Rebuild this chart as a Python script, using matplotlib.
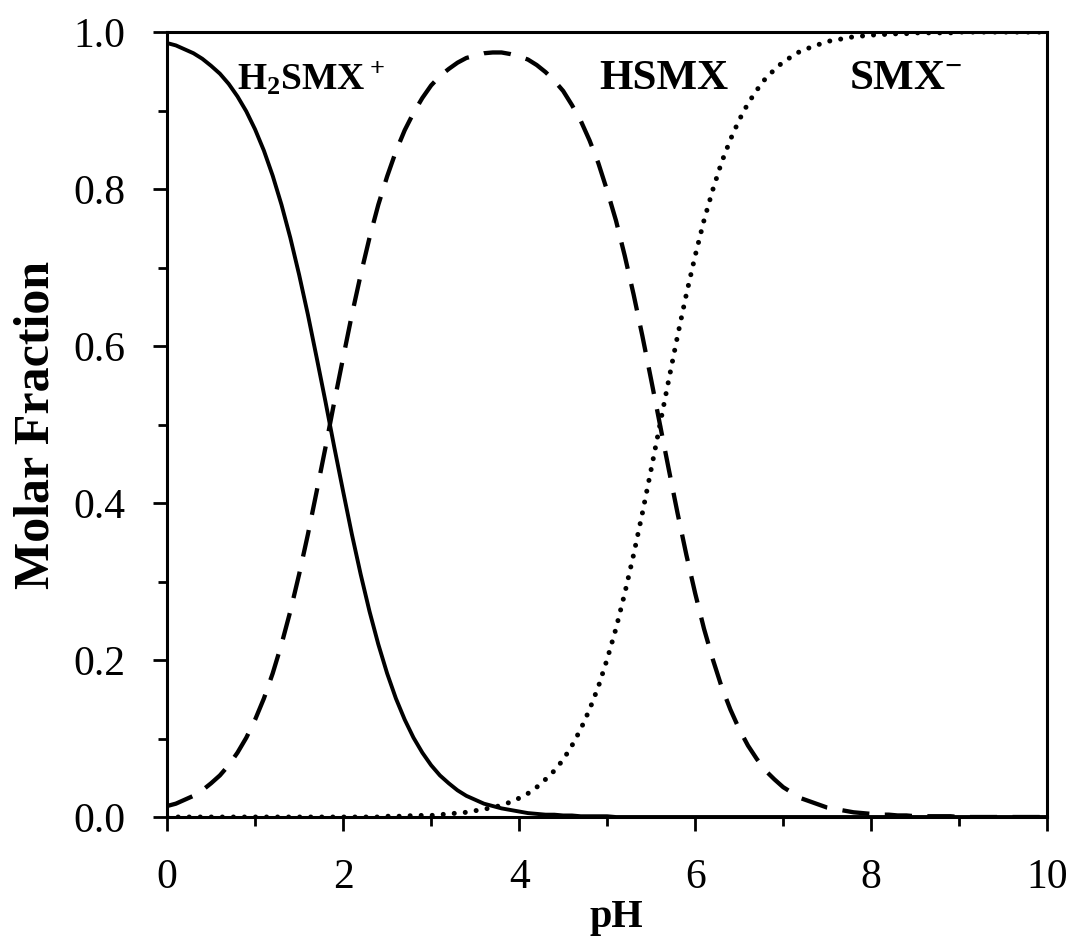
import matplotlib
matplotlib.use("Agg")
import matplotlib.pyplot as plt
from matplotlib.ticker import MultipleLocator, FormatStrFormatter

ph = [0.0, 0.1, 0.2, 0.3, 0.4, 0.5, 0.6, 0.7, 0.8, 0.9,
      1.0, 1.1, 1.2, 1.3, 1.4, 1.5, 1.6, 1.7, 1.8, 1.9,
      2.0, 2.1, 2.2, 2.3, 2.4, 2.5, 2.6, 2.7, 2.8, 2.9,
      3.0, 3.1, 3.2, 3.3, 3.4, 3.5, 3.6, 3.7, 3.8, 3.9,
      4.0, 4.1, 4.2, 4.3, 4.4, 4.5, 4.6, 4.7, 4.8, 4.9,
      5.0, 5.1, 5.2, 5.3, 5.4, 5.5, 5.6, 5.7, 5.8, 5.9,
      6.0, 6.1, 6.2, 6.3, 6.4, 6.5, 6.6, 6.7, 6.8, 6.9,
      7.0, 7.1, 7.2, 7.3, 7.4, 7.5, 7.6, 7.7, 7.8, 7.9,
      8.0, 8.1, 8.2, 8.3, 8.4, 8.5, 8.6, 8.7, 8.8, 8.9,
      9.0, 9.1, 9.2, 9.3, 9.4, 9.5, 9.6, 9.7, 9.8, 9.9, 10.0]

h2smx = [0.986, 0.983, 0.978, 0.973, 0.966, 0.957, 0.947, 0.934, 0.918, 0.899,
         0.876, 0.849, 0.817, 0.780, 0.738, 0.691, 0.640, 0.585, 0.529, 0.471,
         0.415, 0.360, 0.309, 0.262, 0.220, 0.183, 0.151, 0.124, 0.101, 0.082,
         0.066, 0.053, 0.043, 0.034, 0.027, 0.022, 0.017, 0.014, 0.011, 0.009,
         0.007, 0.005, 0.004, 0.003, 0.003, 0.002, 0.002, 0.001, 0.001, 0.001,
         0.001, 0.0, 0.0, 0.0, 0.0, 0.0, 0.0, 0.0, 0.0, 0.0,
         0.0, 0.0, 0.0, 0.0, 0.0, 0.0, 0.0, 0.0, 0.0, 0.0,
         0.0, 0.0, 0.0, 0.0, 0.0, 0.0, 0.0, 0.0, 0.0, 0.0,
         0.0, 0.0, 0.0, 0.0, 0.0, 0.0, 0.0, 0.0, 0.0, 0.0,
         0.0, 0.0, 0.0, 0.0, 0.0, 0.0, 0.0, 0.0, 0.0, 0.0, 0.0]

hsmx = [0.014, 0.017, 0.022, 0.027, 0.034, 0.043, 0.053, 0.066, 0.082, 0.101,
        0.124, 0.151, 0.183, 0.220, 0.262, 0.309, 0.360, 0.415, 0.471, 0.529,
        0.585, 0.640, 0.691, 0.738, 0.780, 0.816, 0.848, 0.875, 0.897, 0.916,
        0.932, 0.944, 0.953, 0.961, 0.967, 0.970, 0.973, 0.974, 0.974, 0.972,
        0.969, 0.965, 0.958, 0.949, 0.938, 0.925, 0.907, 0.887, 0.862, 0.833,
        0.798, 0.760, 0.715, 0.666, 0.613, 0.557, 0.500, 0.443, 0.387, 0.334,
        0.285, 0.240, 0.201, 0.166, 0.137, 0.112, 0.091, 0.074, 0.059, 0.048,
        0.038, 0.031, 0.024, 0.020, 0.016, 0.012, 0.010, 0.008, 0.006, 0.005,
        0.004, 0.003, 0.003, 0.002, 0.002, 0.001, 0.001, 0.001, 0.001, 0.001,
        0.0, 0.0, 0.0, 0.0, 0.0, 0.0, 0.0, 0.0, 0.0, 0.0, 0.0]

smx = [0.0, 0.0, 0.0, 0.0, 0.0, 0.0, 0.0, 0.0, 0.0, 0.0,
       0.0, 0.0, 0.0, 0.0, 0.0, 0.0, 0.0, 0.0, 0.0, 0.0,
       0.0, 0.0, 0.0, 0.0, 0.0, 0.001, 0.001, 0.001, 0.002, 0.002,
       0.002, 0.003, 0.004, 0.005, 0.006, 0.008, 0.010, 0.012, 0.015, 0.019,
       0.024, 0.030, 0.038, 0.048, 0.059, 0.073, 0.091, 0.112, 0.137, 0.166,
       0.201, 0.240, 0.285, 0.334, 0.387, 0.443, 0.500, 0.557, 0.613, 0.666,
       0.715, 0.760, 0.799, 0.834, 0.863, 0.888, 0.909, 0.926, 0.941, 0.952,
       0.962, 0.969, 0.976, 0.980, 0.984, 0.988, 0.990, 0.992, 0.994, 0.995,
       0.996, 0.997, 0.997, 0.998, 0.998, 0.999, 0.999, 0.999, 0.999, 0.999,
       1.0, 1.0, 1.0, 1.0, 1.0, 1.0, 1.0, 1.0, 1.0, 1.0, 1.0]

labels = [r"$\mathbf{H_2SMX^+}$", "HSMX", r"$\mathbf{SMX^{-}}$"]
label_x = [1.64, 5.64, 8.39]
label_size = [27, 31, 31]
label_y = 0.94

plt.rcParams["font.family"] = "serif"
plt.rcParams["font.serif"] = ["Liberation Serif"]
plt.rcParams["mathtext.fontset"] = "custom"
plt.rcParams["mathtext.rm"] = "Liberation Serif"
plt.rcParams["mathtext.bf"] = "Liberation Serif:bold"

fig = plt.figure(figsize=(10.92, 9.43), dpi=100)
ax = fig.add_axes([0.153, 0.1336, 0.806, 0.8324])

ax.plot(ph, h2smx, color="black", lw=2.8)
ax.plot(ph, hsmx, color="black", lw=3.1, dashes=(6.3, 3.6))
ax.plot(ph, smx, color="black", lw=3.6, dashes=(0.01, 2.2), dash_capstyle="round")

for txt, x, fs in zip(labels, label_x, label_size):
    ax.text(x, label_y, txt, ha="center", va="center", fontsize=fs,
            fontweight="bold", family="Liberation Serif")

ax.set_xlim(0, 10)
ax.set_ylim(0, 1.0)
ax.xaxis.set_major_locator(MultipleLocator(2))
ax.xaxis.set_minor_locator(MultipleLocator(1))
ax.yaxis.set_major_locator(MultipleLocator(0.2))
ax.yaxis.set_minor_locator(MultipleLocator(0.1))
ax.yaxis.set_major_formatter(FormatStrFormatter("%.1f"))

ax.tick_params(which="major", direction="out", length=10, width=2, labelsize=30)
ax.tick_params(which="minor", direction="out", length=6.5, width=2)
ax.tick_params(axis="x", which="major", pad=20)
ax.tick_params(axis="y", which="major", pad=20)

for sp in ax.spines.values():
    sp.set_linewidth(2.2)

ax.set_xlabel("pH", fontsize=29, fontweight="bold", labelpad=2)
ax.xaxis.set_label_coords(0.51, -0.105)
ax.set_ylabel("Molar Fraction", fontsize=36, fontweight="bold", labelpad=10)

fig.savefig("out.png", dpi=100)
